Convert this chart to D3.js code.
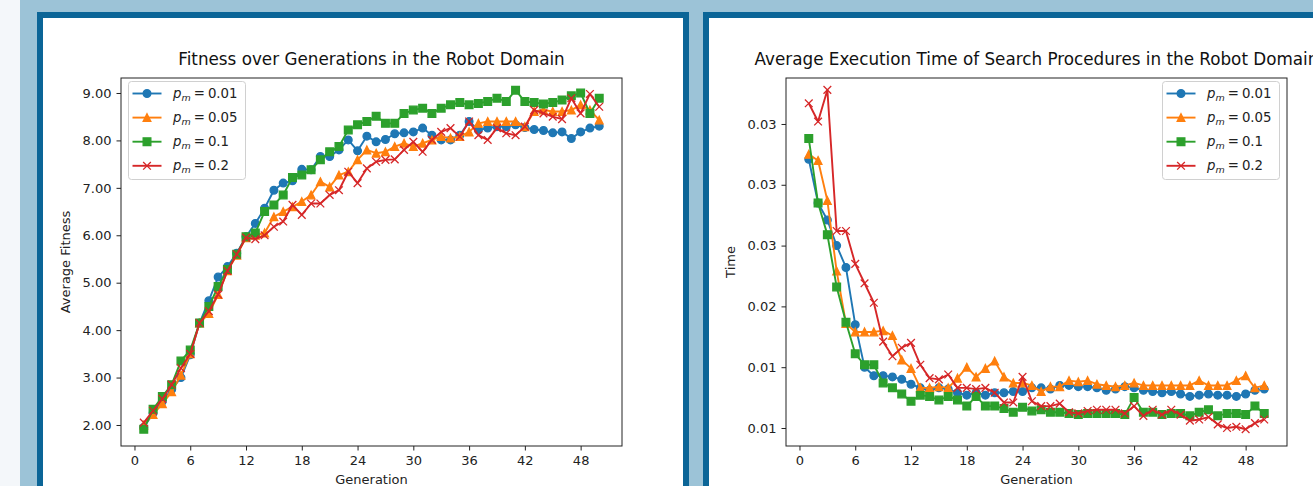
<!DOCTYPE html>
<html>
<head>
<meta charset="utf-8">
<script src="https://cdn.jsdelivr.net/npm/d3@7"></script>
<style>
body { margin: 0; background: #f4f7fa; overflow: hidden; }
svg { display: block; font-family: "DejaVu Sans", sans-serif; }
</style>
</head>
<body>
<script>
// generations on the x axis
var generations = [1, 2, 3, 4, 5, 6, 7, 8, 9, 10, 11, 12, 13, 14, 15, 16, 17, 18, 19, 20,
                   21, 22, 23, 24, 25, 26, 27, 28, 29, 30, 31, 32, 33, 34, 35, 36, 37, 38, 39, 40,
                   41, 42, 43, 44, 45, 46, 47, 48, 49, 50]

var seriesNames = ["0.01", "0.05", "0.1", "0.2"]

// average fitness, one array per mutation rate
var fitnessP001 = [1.95, 2.25, 2.50, 2.75, 3.00, 3.48, 4.15, 4.62, 5.12, 5.34,
                   5.62, 5.97, 6.25, 6.57, 6.95, 7.10, 7.15, 7.39, 7.38, 7.66,
                   7.66, 7.80, 8.01, 7.78, 8.09, 7.97, 8.02, 8.14, 8.16, 8.18,
                   8.26, 8.11, 8.01, 8.01, 8.11, 8.40, 8.22, 8.26, 8.29, 8.29,
                   8.33, 8.27, 8.23, 8.21, 8.16, 8.18, 8.04, 8.18, 8.26, 8.30]
var fitnessP005 = [2.00, 2.22, 2.45, 2.70, 3.05, 3.50, 4.15, 4.35, 4.75, 5.25,
                   5.58, 5.95, 6.00, 6.05, 6.39, 6.50, 6.60, 6.71, 6.85, 7.13,
                   7.02, 7.27, 7.34, 7.59, 7.80, 7.73, 7.76, 7.87, 7.94, 7.87,
                   7.94, 8.01, 8.08, 8.05, 8.08, 8.18, 8.36, 8.40, 8.40, 8.40,
                   8.40, 8.29, 8.61, 8.64, 8.61, 8.61, 8.64, 8.75, 8.64, 8.43]
var fitnessP01 = [1.91, 2.33, 2.60, 2.85, 3.35, 3.58, 4.15, 4.50, 4.92, 5.28,
                  5.60, 5.97, 6.05, 6.50, 6.64, 6.85, 7.22, 7.27, 7.38, 7.59,
                  7.76, 7.87, 8.22, 8.33, 8.40, 8.51, 8.36, 8.36, 8.57, 8.64,
                  8.68, 8.57, 8.68, 8.75, 8.80, 8.75, 8.78, 8.82, 8.89, 8.82,
                  9.06, 8.82, 8.80, 8.77, 8.80, 8.85, 8.94, 9.00, 8.57, 8.89]
var fitnessP02 = [2.05, 2.30, 2.55, 2.85, 3.20, 3.50, 4.15, 4.40, 4.75, 5.25,
                  5.60, 5.95, 5.92, 6.00, 6.18, 6.29, 6.64, 6.43, 6.67, 6.67,
                  6.85, 6.95, 7.34, 7.10, 7.41, 7.55, 7.59, 7.60, 7.80, 7.97,
                  7.76, 8.01, 8.18, 8.26, 8.08, 8.40, 8.11, 8.01, 8.26, 8.15,
                  8.11, 8.29, 8.64, 8.57, 8.50, 8.45, 8.89, 8.57, 8.98, 8.71]

// average execution time of the search procedures
var timeP001 = [0.0321, 0.0285, 0.0271, 0.0250, 0.0232, 0.0185, 0.0150, 0.0143, 0.0143, 0.0142,
                0.0140, 0.0136, 0.0133, 0.0131, 0.0133, 0.0132, 0.0129, 0.0127, 0.0129, 0.0127,
                0.0129, 0.0129, 0.0130, 0.0130, 0.0133, 0.0133, 0.0132, 0.0135, 0.0135, 0.0134,
                0.0134, 0.0133, 0.0131, 0.0132, 0.0134, 0.0133, 0.0131, 0.0130, 0.0129, 0.0130,
                0.0128, 0.0126, 0.0127, 0.0128, 0.0127, 0.0127, 0.0126, 0.0128, 0.0131, 0.0132]
var timeP005 = [0.0325, 0.0320, 0.0287, 0.0229, 0.0186, 0.0179, 0.0179, 0.0179, 0.0180, 0.0176,
                0.0156, 0.0149, 0.0133, 0.0133, 0.0134, 0.0133, 0.0141, 0.0150, 0.0142, 0.0149,
                0.0155, 0.0142, 0.0137, 0.0137, 0.0135, 0.0130, 0.0134, 0.0134, 0.0139, 0.0138,
                0.0139, 0.0136, 0.0135, 0.0134, 0.0135, 0.0137, 0.0135, 0.0135, 0.0135, 0.0135,
                0.0135, 0.0135, 0.0139, 0.0135, 0.0135, 0.0135, 0.0139, 0.0143, 0.0133, 0.0135]
var timeP01 = [0.0338, 0.0285, 0.0259, 0.0216, 0.0187, 0.0161, 0.0152, 0.0152, 0.0137, 0.0133,
               0.0128, 0.0122, 0.0127, 0.0126, 0.0123, 0.0126, 0.0123, 0.0118, 0.0126, 0.0118,
               0.0118, 0.0116, 0.0113, 0.0117, 0.0114, 0.0115, 0.0113, 0.0113, 0.0112, 0.0111,
               0.0112, 0.0112, 0.0112, 0.0112, 0.0111, 0.0125, 0.0113, 0.0113, 0.0111, 0.0112,
               0.0112, 0.0110, 0.0113, 0.0115, 0.0110, 0.0112, 0.0112, 0.0111, 0.0118, 0.0112]
var timeP02 = [0.0367, 0.0352, 0.0378, 0.0262, 0.0262, 0.0235, 0.0219, 0.0203, 0.0171, 0.0159,
               0.0166, 0.0170, 0.0152, 0.0141, 0.0140, 0.0144, 0.0133, 0.0133, 0.0132, 0.0133,
               0.0129, 0.0121, 0.0121, 0.0142, 0.0122, 0.0118, 0.0118, 0.0120, 0.0113, 0.0112,
               0.0114, 0.0115, 0.0115, 0.0115, 0.0112, 0.0118, 0.0110, 0.0115, 0.0111, 0.0115,
               0.0111, 0.0106, 0.0107, 0.0109, 0.0103, 0.0100, 0.0101, 0.0099, 0.0104, 0.0107]

// ticks
var generationTicks = [0, 6, 12, 18, 24, 30, 36, 42, 48]
var fitnessTicks = [2, 3, 4, 5, 6, 7, 8, 9]
var timeTicks = [0.010, 0.015, 0.020, 0.025, 0.030, 0.035]
var timeTickLabels = ["0.01", "0.01", "0.02", "0.03", "0.03", "0.03"]

var colors = ["#1f77b4", "#ff7f0e", "#2ca02c", "#d62728"]
var markers = ["circle", "triangle", "square", "x"]

var svg = d3.select("body")
    .append("svg")
    .attr("width", 1313)
    .attr("height", 486)

// page frame
svg.append("rect").attr("x", 0).attr("y", 0).attr("width", 1313).attr("height", 486).attr("fill", "#f4f7fa")
svg.append("rect").attr("x", 20).attr("y", 0).attr("width", 1293).attr("height", 486).attr("fill", "#9cc3d7")
svg.append("rect").attr("x", 37).attr("y", 12).attr("width", 652).attr("height", 500).attr("fill", "#0b6597")
svg.append("rect").attr("x", 43).attr("y", 18).attr("width", 640).attr("height", 500).attr("fill", "#ffffff")
svg.append("rect").attr("x", 703).attr("y", 12).attr("width", 700).attr("height", 500).attr("fill", "#0b6597")
svg.append("rect").attr("x", 709).attr("y", 18).attr("width", 700).attr("height", 500).attr("fill", "#ffffff")

var markerPath = function(type, s)
{
    var h = s / 2
    if (type == "circle") return d3.symbol(d3.symbolCircle, Math.PI * h * h)()
    if (type == "triangle") return "M0," + (-h) + "L" + h + "," + h + "L" + (-h) + "," + h + "Z"
    if (type == "square") return "M" + (-h) + "," + (-h) + "H" + h + "V" + h + "H" + (-h) + "Z"
    return "M" + (-h) + "," + (-h) + "L" + h + "," + h + "M" + (-h) + "," + h + "L" + h + "," + (-h)
}

var drawMarker = function(g, type, color)
{
    g.append("path")
        .attr("d", markerPath(type, 7.7))
        .attr("fill", type == "x" ? "none" : color)
        .attr("stroke", color)
        .attr("stroke-width", 1.3)
}

var drawChart = function(cfg)
{
    var xScale = d3.scaleLinear().domain(cfg.xDomain).range([cfg.left, cfg.right])
    var yScale = d3.scaleLinear().domain(cfg.yDomain).range([cfg.bottom, cfg.top])

    var chart = svg.append("g")

    chart.append("text")
        .attr("x", (cfg.left + cfg.right) / 2)
        .attr("y", cfg.top - 13)
        .attr("text-anchor", "middle")
        .attr("font-size", 16.8)
        .attr("fill", "#111")
        .text(cfg.title)

    var xAxis = d3.axisBottom(xScale)
        .tickValues(generationTicks)
        .tickSize(4.5)
        .tickPadding(5)
        .tickFormat(d3.format("d"))

    var yAxis = d3.axisLeft(yScale)
        .tickValues(cfg.yTicks)
        .tickSize(4.5)
        .tickPadding(5)
        .tickFormat(cfg.yFormat)

    var gx = chart.append("g")
        .attr("transform", "translate(0," + cfg.bottom + ")")
        .call(xAxis)
    var gy = chart.append("g")
        .attr("transform", "translate(" + cfg.left + ",0)")
        .call(yAxis)
    ;[gx, gy].forEach(function(g)
    {
        g.select(".domain").remove()
        g.selectAll("text").attr("font-size", 13).attr("fill", "#222").attr("font-family", "DejaVu Sans")
        g.selectAll("line").attr("stroke", "#222")
    })

    chart.append("text")
        .attr("x", (cfg.left + cfg.right) / 2)
        .attr("y", cfg.bottom + 38)
        .attr("text-anchor", "middle")
        .attr("font-size", 13)
        .attr("fill", "#222")
        .text("Generation")

    chart.append("text")
        .attr("transform", "translate(" + cfg.yLabelX + "," + (cfg.top + cfg.bottom) / 2 + ") rotate(-90)")
        .attr("text-anchor", "middle")
        .attr("font-size", 13)
        .attr("fill", "#222")
        .text(cfg.yLabel)

    var plot = chart.append("g")

    var line = d3.line()
        .x(function(d) { return xScale(d.gen) })
        .y(function(d) { return yScale(d.value) })

    cfg.series.forEach(function(values, i)
    {
        var points = generations.map(function(gen, j) { return {gen: gen, value: values[j]} })
        var sg = plot.append("g")
        sg.append("path")
            .datum(points)
            .attr("d", line)
            .attr("fill", "none")
            .attr("stroke", colors[i])
            .attr("stroke-width", 1.9)
            .attr("stroke-linejoin", "round")
        sg.selectAll("g.pt")
            .data(points)
            .enter()
            .append("g")
            .attr("class", "pt")
            .attr("transform", function(d) { return "translate(" + xScale(d.gen) + "," + yScale(d.value) + ")" })
            .each(function() { drawMarker(d3.select(this), markers[i], colors[i]) })
    })

    chart.append("rect")
        .attr("x", cfg.left)
        .attr("y", cfg.top)
        .attr("width", cfg.right - cfg.left)
        .attr("height", cfg.bottom - cfg.top)
        .attr("fill", "none")
        .attr("stroke", "#222")
        .attr("stroke-width", 1)

    // legend
    var lg = chart.append("g").attr("transform", "translate(" + cfg.legendX + "," + (cfg.top + 3) + ")")
    lg.append("rect")
        .attr("x", 0.5)
        .attr("y", 0.5)
        .attr("width", 117)
        .attr("height", 98)
        .attr("rx", 3)
        .attr("fill", "rgba(255,255,255,0.8)")
        .attr("stroke", "#d0d0d0")

    seriesNames.forEach(function(name, i)
    {
        var row = lg.append("g").attr("transform", "translate(0," + (12.5 + i * 24.1) + ")")
        row.append("line")
            .attr("x1", 4.5).attr("x2", 33.5)
            .attr("stroke", colors[i])
            .attr("stroke-width", 1.9)
        var m = row.append("g").attr("transform", "translate(19,0)")
        drawMarker(m, markers[i], colors[i])
        var t = row.append("text")
            .attr("x", 45)
            .attr("y", 4.5)
            .attr("font-size", 13.3)
            .attr("fill", "#222")
        t.append("tspan").attr("font-style", "italic").text("p")
        t.append("tspan").attr("font-style", "italic").attr("font-size", 9.5).attr("dy", 2.5).text("m")
        t.append("tspan").attr("dy", -2.5).attr("dx", 3).text("=")
        t.append("tspan").attr("dx", 3).text(name)
    })
}

drawChart({
    title: "Fitness over Generations in the Robot Domain",
    left: 121, right: 622, top: 78, bottom: 446,
    xDomain: [-1.45, 52.45],
    yDomain: [1.557, 9.316],
    yTicks: fitnessTicks,
    yFormat: d3.format(".2f"),
    yLabel: "Average Fitness",
    yLabelX: 70,
    legendX: 128,
    series: [fitnessP001, fitnessP005, fitnessP01, fitnessP02]
})

drawChart({
    title: "Average Execution Time of Search Procedures in the Robot Domain",
    left: 786, right: 1287, top: 78, bottom: 446,
    xDomain: [-1.45, 52.45],
    yDomain: [0.00852, 0.03878],
    yTicks: timeTicks,
    yFormat: function(d, i) { return timeTickLabels[i] },
    yLabel: "Time",
    yLabelX: 735,
    legendX: 1162,
    series: [timeP001, timeP005, timeP01, timeP02]
})
</script>
</body>
</html>
